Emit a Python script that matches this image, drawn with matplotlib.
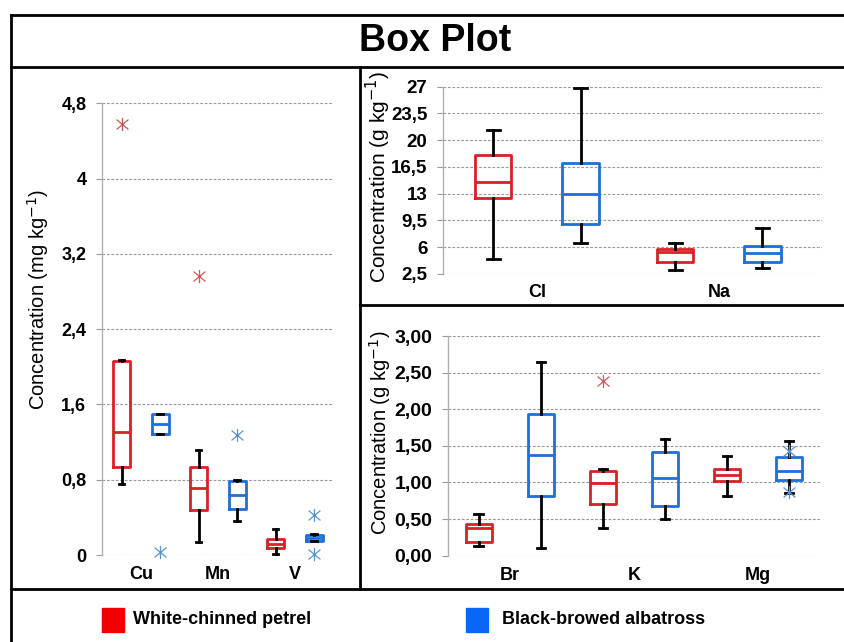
import matplotlib
matplotlib.use("Agg")
import matplotlib.pyplot as plt
from matplotlib.lines import Line2D
from matplotlib.path import Path
from matplotlib.patches import Rectangle

plt.rcParams['font.family'] = ['Liberation Sans', 'DejaVu Sans']

# ---------------- data ----------------
species = ['White-chinned petrel', 'Black-browed albatross']

# panel 1 (mg kg-1)
p1_cats = ['Cu', 'Mn', 'V']
p1_petrel_whislo = [0.75, 0.135, 0.01]
p1_petrel_q1 = [0.93, 0.475, 0.073]
p1_petrel_med = [1.31, 0.71, 0.12]
p1_petrel_q3 = [2.06, 0.94, 0.17]
p1_petrel_whishi = [2.07, 1.12, 0.28]
p1_petrel_fliers = [[4.58], [2.97], []]
p1_alb_whislo = [1.29, 0.365, 0.146]
p1_alb_q1 = [1.29, 0.49, 0.146]
p1_alb_med = [1.39, 0.64, 0.18]
p1_alb_q3 = [1.50, 0.79, 0.21]
p1_alb_whishi = [1.50, 0.80, 0.22]
p1_alb_fliers = [[0.03], [1.27], [0.43, 0.01]]
p1_ticks = [0, 0.8, 1.6, 2.4, 3.2, 4.0, 4.8]
p1_ticklabels = ['0', '0,8', '1,6', '2,4', '3,2', '4', '4,8']

# panel 2 (g kg-1)
p2_cats = ['Cl', 'Na']
p2_petrel_whislo = [4.4, 3.0]
p2_petrel_q1 = [12.5, 4.1]
p2_petrel_med = [14.5, 5.4]
p2_petrel_q3 = [18.07, 5.8]
p2_petrel_whishi = [21.4, 6.6]
p2_alb_whislo = [6.6, 3.25]
p2_alb_q1 = [9.0, 4.1]
p2_alb_med = [12.96, 5.2]
p2_alb_q3 = [17.0, 6.2]
p2_alb_whishi = [26.8, 8.56]
p2_ticks = [2.5, 6, 9.5, 13, 16.5, 20, 23.5, 27]
p2_ticklabels = ['2,5', '6', '9,5', '13', '16,5', '20', '23,5', '27']

# panel 3 (g kg-1)
p3_cats = ['Br', 'K', 'Mg']
p3_petrel_whislo = [0.13, 0.38, 0.81]
p3_petrel_q1 = [0.19, 0.70, 1.02]
p3_petrel_med = [0.38, 0.99, 1.10]
p3_petrel_q3 = [0.43, 1.15, 1.19]
p3_petrel_whishi = [0.57, 1.18, 1.366]
p3_petrel_fliers = [[], [2.39], []]
p3_alb_whislo = [0.105, 0.50, 0.85]
p3_alb_q1 = [0.81, 0.68, 1.03]
p3_alb_med = [1.376, 1.057, 1.15]
p3_alb_q3 = [1.94, 1.42, 1.35]
p3_alb_whishi = [2.64, 1.60, 1.57]
p3_alb_fliers = [[], [], [1.43, 0.87]]
p3_ticks = [0, 0.5, 1.0, 1.5, 2.0, 2.5, 3.0]
p3_ticklabels = ['0,00', '0,50', '1,00', '1,50', '2,00', '2,50', '3,00']

# ---------------- style ----------------
RED = '#dc1f26'
BLUE = '#1e6fd9'
RED_F = '#d2575a'
BLUE_F = '#5b93d8'
GRID = '#9a9a9a'
W, H = 844, 642

star = Path([(0, -1), (0, 1), (-0.9, -0.75), (0.9, 0.75), (-0.9, 0.75), (0.9, -0.75)],
            [Path.MOVETO, Path.LINETO, Path.MOVETO, Path.LINETO, Path.MOVETO, Path.LINETO])

fig = plt.figure(figsize=(W / 100, H / 100), dpi=100)


def rect(x0, x1, ytop, ybot):
    return [x0 / W, 1 - ybot / H, (x1 - x0) / W, (ybot - ytop) / H]


def stats(lo, q1, med, q3, hi, fl=None):
    out = []
    for i in range(len(med)):
        out.append(dict(whislo=lo[i], q1=q1[i], med=med[i], q3=q3[i], whishi=hi[i],
                        fliers=(fl[i] if fl else [])))
    return out


def draw(ax, st, pos, color, fcolor, width):
    ax.bxp(st, positions=pos, widths=width, showfliers=True, capwidths=0.07,
           boxprops=dict(color=color, lw=2.0),
           medianprops=dict(color=color, lw=2.0),
           whiskerprops=dict(color='black', lw=2.0),
           capprops=dict(color='black', lw=2.0),
           flierprops=dict(marker=star, markersize=9.5, markeredgecolor=fcolor,
                           markeredgewidth=0.9, linestyle='none'),
           manage_ticks=False, zorder=3)
    for ln in ax.lines:
        ln.set_clip_on(False)


def style(ax, cats, ticks, labels, ylim, xlim, ylabel, tfs, lfs, lab_x, lab_y, xpad):
    ax.set_ylim(*ylim)
    ax.set_xlim(*xlim)
    ax.set_yticks(ticks)
    ax.set_yticklabels(labels, fontsize=tfs, fontweight='bold')
    ax.set_xticks(range(len(cats)))
    ax.set_xticklabels(cats, fontsize=13, fontweight='bold')
    ax.tick_params(axis='x', length=0, pad=xpad)
    ax.tick_params(axis='y', length=4.5, width=0.8, color=GRID, pad=7)
    for s in ['top', 'right', 'bottom']:
        ax.spines[s].set_visible(False)
    ax.spines['left'].set_color('#b0b0b0')
    ax.spines['left'].set_linewidth(1.0)
    ax.yaxis.grid(True, linestyle=(0, (2.5, 1.5)), color=GRID, lw=0.8)
    ax.set_axisbelow(True)
    ax.set_facecolor('none')
    ax.set_ylabel(ylabel, fontsize=lfs)
    ax.yaxis.set_label_coords(lab_x, lab_y)


off = 0.25

# panel 1
ax1 = fig.add_axes(rect(102.3, 333.3, 103.3, 555))
x1 = list(range(len(p1_cats)))
draw(ax1, stats(p1_petrel_whislo, p1_petrel_q1, p1_petrel_med, p1_petrel_q3, p1_petrel_whishi, p1_petrel_fliers),
     [x - off for x in x1], RED, RED_F, 0.21)
draw(ax1, stats(p1_alb_whislo, p1_alb_q1, p1_alb_med, p1_alb_q3, p1_alb_whishi, p1_alb_fliers),
     [x + off for x in x1], BLUE, BLUE_F, 0.22)
style(ax1, p1_cats, p1_ticks, p1_ticklabels, (0, 4.8), (-0.5, 2.5),
      'Concentration (mg kg$^{-1}$)', 13, 14.5, (51 - 102.3) / 231, 0.565, 8)

# panel 2
ax2 = fig.add_axes(rect(443.3, 821.7, 86.7, 274))
x2 = list(range(len(p2_cats)))
draw(ax2, stats(p2_petrel_whislo, p2_petrel_q1, p2_petrel_med, p2_petrel_q3, p2_petrel_whishi),
     [x - 0.24 for x in x2], RED, RED_F, 0.2)
draw(ax2, stats(p2_alb_whislo, p2_alb_q1, p2_alb_med, p2_alb_q3, p2_alb_whishi),
     [x + 0.24 for x in x2], BLUE, BLUE_F, 0.2)
style(ax2, p2_cats, p2_ticks, p2_ticklabels, (2.5, 27), (-0.515, 1.566),
      'Concentration (g kg$^{-1}$)', 13.5, 15, (393 - 443.3) / 378.4, 0.52, 7)

# panel 3
ax3 = fig.add_axes(rect(448.3, 820, 336, 555.7))
x3 = list(range(len(p3_cats)))
draw(ax3, stats(p3_petrel_whislo, p3_petrel_q1, p3_petrel_med, p3_petrel_q3, p3_petrel_whishi, p3_petrel_fliers),
     [x - off for x in x3], RED, RED_F, 0.205)
draw(ax3, stats(p3_alb_whislo, p3_alb_q1, p3_alb_med, p3_alb_q3, p3_alb_whishi, p3_alb_fliers),
     [x + off for x in x3], BLUE, BLUE_F, 0.205)
style(ax3, p3_cats, p3_ticks, p3_ticklabels, (0, 3.0), (-0.496, 2.5),
      'Concentration (g kg$^{-1}$)', 14, 14.5, (393 - 448.3) / 371.7, 0.56, 8)

# ---------------- frame ----------------
def hline(y, x0, x1):
    fig.add_artist(Line2D([x0 / W, x1 / W], [1 - y / H, 1 - y / H], color='black', lw=2.0,
                          transform=fig.transFigure))


def vline(x, y0, y1):
    fig.add_artist(Line2D([x / W, x / W], [1 - y0 / H, 1 - y1 / H], color='black', lw=2.0,
                          transform=fig.transFigure))


hline(15, 11, W)
hline(66.7, 11, W)
hline(305, 360, W)
hline(589, 11, W)
vline(11, 15, H)
vline(360, 66.7, 589)

fig.text(435 / W, 1 - 41 / H, 'Box Plot', fontsize=27, fontweight='bold',
         ha='center', va='center')

# legend
for sq_x, txt_x, col, name in [(102, 133, '#f00000', species[0]), (466, 502, '#0a66f5', species[1])]:
    fig.add_artist(Rectangle((sq_x / W, 1 - 632 / H), 22 / W, 24 / H, color=col,
                             transform=fig.transFigure))
    fig.text(txt_x / W, 1 - 620 / H, name, fontsize=13, fontweight='bold',
             family=['Liberation Sans Narrow', 'Liberation Sans', 'DejaVu Sans'],
             ha='left', va='center')

fig.savefig('out.png', dpi=100)
